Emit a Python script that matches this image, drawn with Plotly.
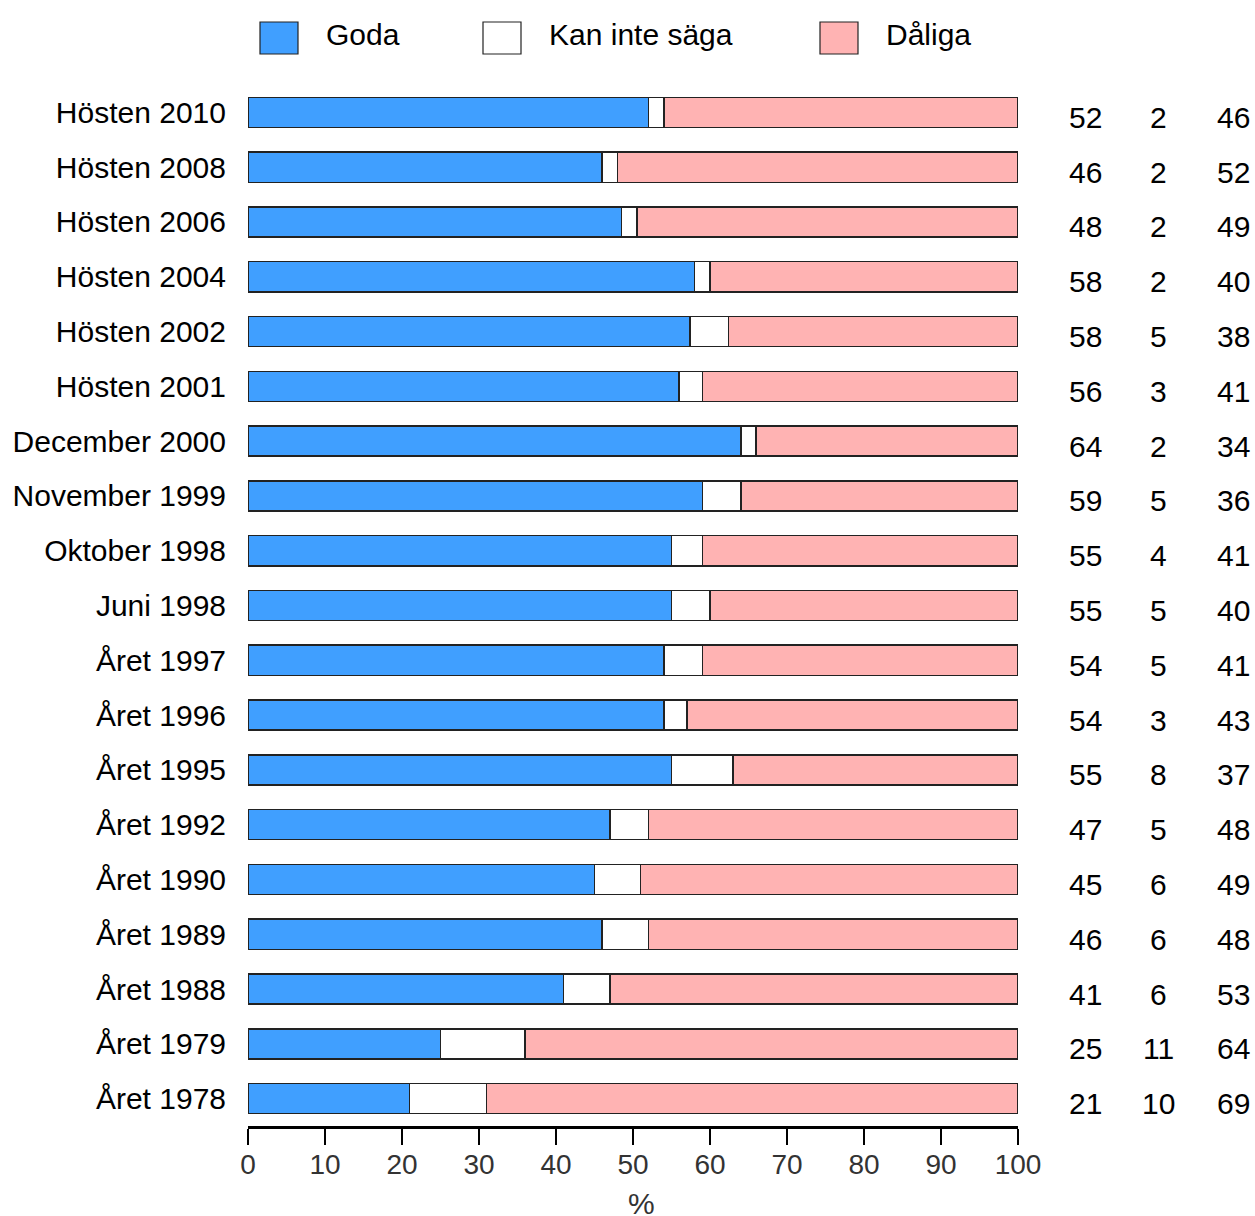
import plotly.graph_objects as go

categories = ["Hösten 2010", "Hösten 2008", "Hösten 2006", "Hösten 2004", "Hösten 2002",
              "Hösten 2001", "December 2000", "November 1999", "Oktober 1998", "Juni 1998",
              "Året 1997", "Året 1996", "Året 1995", "Året 1992", "Året 1990", "Året 1989",
              "Året 1988", "Året 1979", "Året 1978"]
goda = [52, 46, 48, 58, 58, 56, 64, 59, 55, 55, 54, 54, 55, 47, 45, 46, 41, 25, 21]
kan_inte = [2, 2, 2, 2, 5, 3, 2, 5, 4, 5, 5, 3, 8, 5, 6, 6, 6, 11, 10]
daliga = [46, 52, 49, 40, 38, 41, 34, 36, 41, 40, 41, 43, 37, 48, 49, 48, 53, 64, 69]
series_names = ["Goda", "Kan inte säga", "Dåliga"]
x_ticks = list(range(0, 101, 10))
x_title = "%"

colors = ["#409FFF", "#FFFFFF", "#FFB3B3"]
W, H = 1255, 1216
ML, MR, MT, MB = 248, 237, 85, 90
PW, PH = W - ML - MR, H - MT - MB

def px(x):
    return (x - ML) / PW

def py(y):
    return (H - MB - y) / PH

series = [goda, kan_inte, daliga]
totals = [a + b + c for a, b, c in zip(goda, kan_inte, daliga)]

fig = go.Figure()
for name, vals, col in zip(series_names, series, colors):
    pct = [v / t * 100 for v, t in zip(vals, totals)]
    fig.add_trace(go.Bar(
        y=categories, x=pct, orientation="h", name=name,
        marker=dict(color=col, line=dict(color="#222222", width=1.5)),
        width=0.55, showlegend=False, hoverinfo="skip"))

FONT = "Liberation Sans, Arial, sans-serif"

# right-hand value columns
col_x = [1085, 1158, 1233]
annotations = []
for cx, vals in zip(col_x, series):
    for cat, v in zip(categories, vals):
        annotations.append(dict(
            x=px(cx), xref="paper", y=cat, yref="y", text=str(v), showarrow=False,
            xanchor="center", yanchor="middle", yshift=-5,
            font=dict(size=30, color="#000000", family=FONT)))

# manual legend
shapes = []
leg_boxes = [260, 483, 820]
for name, col, bx in zip(series_names, colors, leg_boxes):
    shapes.append(dict(type="rect", xref="paper", yref="paper",
                       x0=px(bx), x1=px(bx + 38), y0=py(54), y1=py(22),
                       fillcolor=col, line=dict(color="#222222", width=1.2)))
    annotations.append(dict(x=px(bx + 64), xref="paper", y=py(35), yref="paper",
                            text=name, showarrow=False, xanchor="left", yanchor="middle",
                            font=dict(size=30, color="#000000", family=FONT)))

# x-axis title
annotations.append(dict(x=px(641), xref="paper", y=py(1203), yref="paper",
                        text=x_title, showarrow=False, xanchor="center", yanchor="middle",
                        font=dict(size=30, color="#333333", family=FONT)))

fig.update_layout(
    width=W, height=H, barmode="stack", bargap=0.45,
    margin=dict(l=ML, r=MR, t=MT, b=MB, autoexpand=False),
    paper_bgcolor="white", plot_bgcolor="white",
    font=dict(family=FONT, size=28, color="#000000"),
    shapes=shapes, annotations=annotations,
    xaxis=dict(range=[0, 100], tickvals=x_ticks, ticktext=[str(t) for t in x_ticks],
               ticks="outside", ticklen=16, tickwidth=1.5, tickcolor="#000000",
               showline=True, linewidth=3, linecolor="#000000", showgrid=False,
               zeroline=False, tickfont=dict(size=28, color="#333333"),
               ticklabelstandoff=-5),
    yaxis=dict(categoryorder="array", categoryarray=categories,
               showgrid=False, zeroline=False, showline=False,
               ticks="", ticklabelstandoff=21,
               tickfont=dict(size=30, color="#000000")),
)
fig.update_yaxes(autorange=False, range=[18.5, -0.5])

fig.write_html("out.html", config={"displayModeBar": False},
               post_script="document.body.style.margin='0';document.body.style.overflow='hidden';")
